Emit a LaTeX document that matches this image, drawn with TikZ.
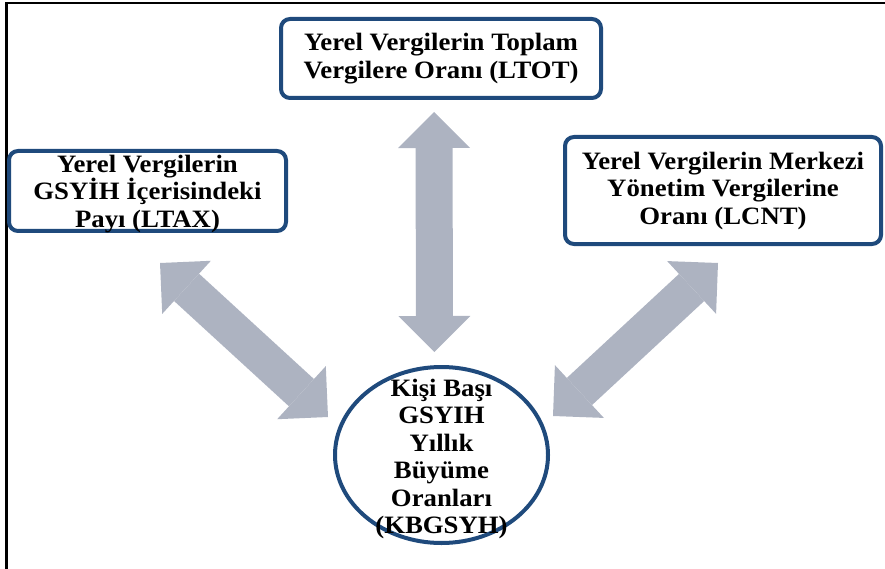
\documentclass[tikz,border=0pt]{standalone}
\usepackage{fontspec}
\setmainfont{Liberation Serif}[FakeStretch=1.07]
\usetikzlibrary{arrows.meta,shapes.geometric,calc}
\definecolor{frameBlue}{HTML}{1F4A7C}
\definecolor{arrowGray}{HTML}{ADB3C1}

\begin{document}
\begin{tikzpicture}[
  x=1pt, y=-1pt,
  bodytext/.style={align=center, inner sep=0pt, font=\bfseries\fontsize{25}{27.5}\selectfont},
  ratiobox/.style={bodytext, rectangle, rounded corners=9pt, draw=frameBlue, line width=4pt, fill=white},
  growth/.style={ellipse, draw=frameBlue, line width=4pt, inner sep=0pt, minimum width=213pt, minimum height=176pt},
  link/.style={{Triangle[length=36pt,width=72pt,line width=0pt]}-{Triangle[length=36pt,width=72pt,line width=0pt]}, line width=37pt, draw=arrowGray}
]
\useasboundingbox (0,0) rectangle (885,569);
\draw[line width=2.4pt] (6.5,569) |- (885,2.8);

\node[ratiobox, minimum width=320pt, minimum height=79pt] (ltot) at (441,58.5) {Yerel Vergilerin Toplam\\Vergilere Oranı (LTOT)};
\node[ratiobox, minimum width=277pt, minimum height=80pt] (ltax) at (147.5,191) {};
\node[bodytext] at ([yshift=-3pt]ltax.center) {Yerel Vergilerin\\GSYİH İçerisindeki\\Payı (LTAX)};
\node[ratiobox, minimum width=316pt, minimum height=107pt] (lcnt) at (723,190.5) {Yerel Vergilerin Merkezi\\Yönetim Vergilerine\\Oranı (LCNT)};
\node[growth] (kbg) at (441.5,455) {};
\node[bodytext] (kbgtext) at ([yshift=-4pt]kbg.center) {Kişi Başı\\GSYIH\\Yıllık\\Büyüme\\Oranları\\(KBGSYH)};

\coordinate (ltaxtip) at ([shift={(12.5,30)}]ltax.south);
\coordinate (kbgleft) at ([shift={(-113.5,-38)}]kbg.center);
\coordinate (lcnttip) at ([shift={(-5,17)}]lcnt.south);
\coordinate (kbgright) at ([shift={(111.5,-39)}]kbg.center);

\draw[link, shorten <=12pt, shorten >=13pt] ([xshift=-7pt]ltot.south) -- ([xshift=-7pt]kbg.north);
\draw[link] (ltaxtip) -- (kbgleft);
\draw[link] (lcnttip) -- (kbgright);
\end{tikzpicture}
\end{document}
